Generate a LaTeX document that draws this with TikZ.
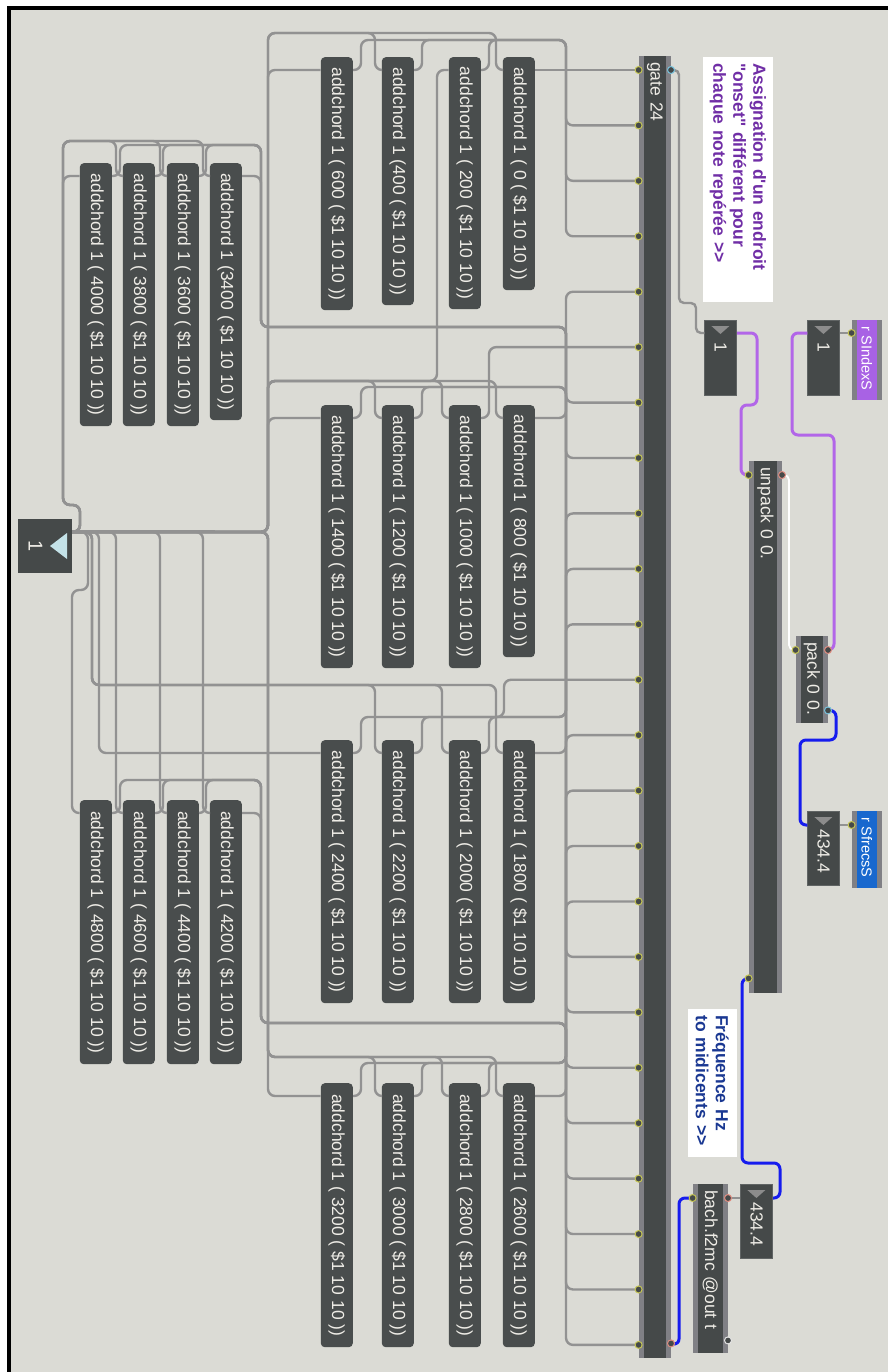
\documentclass[tikz,border=0pt]{standalone}
\usepackage{fontspec}
\setmainfont{Liberation Sans}[Ligatures=TeXOff]
\usetikzlibrary{calc}
\definecolor{patchbg}{RGB}{219,219,213}
\definecolor{msgfill}{RGB}{73,77,77}
\definecolor{objfill}{RGB}{69,73,73}
\definecolor{objstrip}{RGB}{128,128,133}
\definecolor{numedge}{RGB}{96,100,100}
\definecolor{maxtext}{RGB}{238,236,230}
\definecolor{cordgray}{RGB}{146,146,146}
\definecolor{cordpurple}{RGB}{178,102,232}
\definecolor{cordblue}{RGB}{22,28,238}
\definecolor{recvpurple}{RGB}{168,98,228}
\definecolor{recvblue}{RGB}{24,104,206}
\definecolor{notepurple}{RGB}{112,46,166}
\definecolor{noteblue}{RGB}{26,56,146}
\definecolor{portyellow}{RGB}{196,196,84}
\definecolor{portcyan}{RGB}{120,194,220}
\definecolor{portpink}{RGB}{222,140,128}
\definecolor{trigray}{RGB}{140,140,140}
\definecolor{trilight}{RGB}{196,226,232}
\newcommand{\maxfont}{\fontsize{17.5}{20}\selectfont}

\begin{document}
\begin{tikzpicture}[
  x=1pt, y=-1pt,
  every node/.style={font=\maxfont},
  msgbox/.style={rotate=-90, anchor=north west, fill=msgfill, rounded corners=4pt, minimum height=32pt, inner xsep=6pt, inner ysep=0pt, text=maxtext},
  objbox/.style={rotate=-90, anchor=north west, fill=objfill, minimum height=32pt, inner xsep=6pt, inner ysep=0pt, align=left, text=maxtext},
  numbox/.style={objbox, draw=numedge, line width=0.6pt},
  recvbox/.style={objbox, minimum height=30pt, font=\fontsize{14.5}{17}\selectfont, text=white},
  notebox/.style={rotate=-90, anchor=north west, fill=white, inner xsep=6pt, inner ysep=0pt, align=left, font=\bfseries\maxfont},
  bignum/.style={rotate=-90, fill=objfill, minimum width=54pt, minimum height=54pt, inner sep=0pt, text height=40pt, text depth=7pt, font=\fontsize{20}{24}\selectfont, text=maxtext},
  strip/.style={fill=objstrip},
  numtri/.style={fill=trigray},
  cord/.style={draw=cordgray, line width=2.4pt, rounded corners=7pt},
  purplecord/.style={cord, draw=cordpurple, line width=3pt, rounded corners=6pt},
  bluecord/.style={cord, draw=cordblue, line width=3pt, rounded corners=6pt},
  whitecord/.style={cord, draw=white, line width=1.8pt, rounded corners=5pt},
  port/.style={fill=objfill, line width=1pt}
]
\useasboundingbox (0,0) rectangle (888,1372);
\fill[white] (0,0) rectangle (888,1372);
\fill[black] (7,6) rectangle (888,1372);
\fill[patchbg] (11,10) rectangle (888,1372);

% objects
\node[objbox, text width=1290pt] (gate) at (671,56) {gate 24};
\node[objbox, minimum height=33pt, text width=520pt] (unpack) at (782,461) {unpack 0 0.};
\node[objbox, text width=75pt] (pack) at (828,636) {pack 0 0.};
\node[objbox, minimum height=35pt, text width=157pt] (f2mc) at (728,1184) {bach.f2mc @out t};
\node[numbox, text width=63pt] (nbA) at (737,320) {\hspace*{16pt}1};
\node[numbox, text width=63pt] (nbB) at (840,320) {\hspace*{16pt}1};
\node[numbox, text width=62pt] (nbC) at (840,811) {\hspace*{12pt}434.4};
\node[numbox, text width=62pt] (nbD) at (773,1184) {\hspace*{12pt}434.4};
\node[recvbox, fill=recvpurple, text width=68pt] (recvA) at (882,320) {r SIndexS};
\node[recvbox, fill=recvblue, text width=65pt] (recvB) at (882,811) {r SfrecsS};
\node[notebox, text=notepurple, minimum height=70pt, text width=233pt] (note1) at (773,57) {Assignation d'un endroit\\"onset" différent pour\\chaque note repérée >{}>};
\node[notebox, text=noteblue, minimum height=49pt, text width=136pt] (note2) at (737,1009) {Fréquence Hz\\to midicents >{}>};
\node[bignum] (big) at (45,546) {1};

% addchord messages
\node[msgbox, minimum width=233pt] (m0) at (535,57) {addchord 1 ( 0 ( \$1 10 10 ))};
\node[msgbox, minimum width=252pt] (m1) at (481,57) {addchord 1 ( 200 ( \$1 10 10 ))};
\node[msgbox, minimum width=248pt] (m2) at (414,57) {addchord 1 (400 ( \$1 10 10 ))};
\node[msgbox, minimum width=253pt] (m3) at (353,57) {addchord 1 ( 600 ( \$1 10 10 ))};
\node[msgbox, minimum width=252pt] (m4) at (535,405) {addchord 1 ( 800 ( \$1 10 10 ))};
\node[msgbox, minimum width=263pt] (m5) at (481,405) {addchord 1 ( 1000 ( \$1 10 10 ))};
\node[msgbox, minimum width=263pt] (m6) at (414,405) {addchord 1 ( 1200 ( \$1 10 10 ))};
\node[msgbox, minimum width=263pt] (m7) at (353,405) {addchord 1 ( 1400 ( \$1 10 10 ))};
\node[msgbox, minimum width=263pt] (m8) at (535,740) {addchord 1 ( 1800 ( \$1 10 10 ))};
\node[msgbox, minimum width=263pt] (m9) at (481,740) {addchord 1 ( 2000 ( \$1 10 10 ))};
\node[msgbox, minimum width=263pt] (m10) at (414,740) {addchord 1 ( 2200 ( \$1 10 10 ))};
\node[msgbox, minimum width=263pt] (m11) at (353,740) {addchord 1 ( 2400 ( \$1 10 10 ))};
\node[msgbox, minimum width=264pt] (m12) at (535,1083) {addchord 1 ( 2600 ( \$1 10 10 ))};
\node[msgbox, minimum width=264pt] (m13) at (481,1083) {addchord 1 ( 2800 ( \$1 10 10 ))};
\node[msgbox, minimum width=264pt] (m14) at (414,1083) {addchord 1 ( 3000 ( \$1 10 10 ))};
\node[msgbox, minimum width=264pt] (m15) at (353,1083) {addchord 1 ( 3200 ( \$1 10 10 ))};
\node[msgbox, minimum width=257pt] (m16) at (242,163) {addchord 1 (3400 ( \$1 10 10 ))};
\node[msgbox, minimum width=263pt] (m17) at (199,163) {addchord 1 ( 3600 ( \$1 10 10 ))};
\node[msgbox, minimum width=263pt] (m18) at (155,163) {addchord 1 ( 3800 ( \$1 10 10 ))};
\node[msgbox, minimum width=263pt] (m19) at (112,163) {addchord 1 ( 4000 ( \$1 10 10 ))};
\node[msgbox, minimum width=264pt] (m20) at (242,800) {addchord 1 ( 4200 ( \$1 10 10 ))};
\node[msgbox, minimum width=264pt] (m21) at (199,800) {addchord 1 ( 4400 ( \$1 10 10 ))};
\node[msgbox, minimum width=264pt] (m22) at (155,800) {addchord 1 ( 4600 ( \$1 10 10 ))};
\node[msgbox, minimum width=264pt] (m23) at (112,800) {addchord 1 ( 4800 ( \$1 10 10 ))};

\foreach \o in {gate,unpack,pack,f2mc,recvA,recvB} {
  \fill[strip] (\o.south west) rectangle ([xshift=5.5pt]\o.south east);
  \fill[strip] (\o.north west) rectangle ([xshift=-5.5pt]\o.north east);
}
\foreach \n in {nbA,nbB,nbC,nbD}
  \fill[numtri] ([xshift=7pt,yshift=-6pt]\n.south west) -- ([xshift=25pt,yshift=-6pt]\n.south west) -- ([xshift=16pt,yshift=-14pt]\n.south west) -- cycle;
\fill[trilight] ([xshift=5pt]big.center) -- ([xshift=22pt,yshift=13pt]big.center) -- ([xshift=22pt,yshift=-13pt]big.center) -- cycle;

% inlets and outlets
\foreach \i in {0,...,23} {
  \coordinate (o\i) at ([yshift={-14pt-55.43pt*\i}]gate.south west);
  \coordinate (m\i-in) at ([yshift=-13pt]m\i.north west);
  \coordinate (m\i-out) at ([yshift=-13pt]m\i.south west);
}
\coordinate (hub) at ([yshift=-13pt]big.north west);
\coordinate (gin1) at ([yshift=-14pt]gate.north west);
\coordinate (gin2) at ([yshift=15pt]gate.north east);
\coordinate (nbA-out) at ([yshift=-13pt]nbA.south west);
\coordinate (nbA-in) at ([yshift=-13pt]nbA.north west);
\coordinate (nbB-out) at ([yshift=-13pt]nbB.south west);
\coordinate (nbB-in) at ([yshift=-13pt]nbB.north west);
\coordinate (recvA-out) at ([yshift=-13pt]recvA.south west);
\coordinate (recvB-out) at ([yshift=-14pt]recvB.south west);
\coordinate (nbC-out) at ([yshift=-14pt]nbC.south west);
\coordinate (nbC-in) at ([yshift=-14pt]nbC.north west);
\coordinate (up-in) at ([yshift=-14pt]unpack.north west);
\coordinate (up-out1) at ([yshift=-14pt]unpack.south west);
\coordinate (up-out2) at ([yshift=15pt]unpack.south east);
\coordinate (pk-out) at ([yshift=-14pt]pack.south west);
\coordinate (pk-in1) at ([yshift=-14pt]pack.north west);
\coordinate (pk-in2) at ([yshift=13pt]pack.north east);
\coordinate (nbD-out) at ([yshift=-14pt]nbD.south west);
\coordinate (nbD-in) at ([yshift=-14pt]nbD.north west);
\coordinate (f2-out) at ([yshift=-14pt]f2mc.south west);
\coordinate (f2-in1) at ([yshift=-14pt]f2mc.north west);
\coordinate (f2-in2) at ([yshift=13pt]f2mc.north east);

% gate -> addchord
\draw[cord] (o0) -- (m0-in);
\draw[cord] (o1) -| (566,40) -| (489,70) -- (m1-in);
\draw[cord] (o2) -| (566,40) -| (422,70) -- (m2-in);
\draw[cord] (o3) -| (566,40) -| (361,70) -- (m3-in);
\draw[cord] (o4) -| (566,418) -- (m4-in);
\draw[cord] (o5) -| (489,418) -- (m5-in);
\draw[cord] (o6) -| (566,387) -| (422,418) -- (m6-in);
\draw[cord] (o7) -| (566,387) -| (361,418) -- (m7-in);
\draw[cord] (o8) -| (566,753) -- (m8-in);
\draw[cord] (o9) -| (566,717) -| (489,753) -- (m9-in);
\draw[cord] (o10) -| (566,717) -| (422,753) -- (m10-in);
\draw[cord] (o11) -| (504,717) -| (361,753) -- (m11-in);
\draw[cord] (o12) -| (566,1096) -- (m12-in);
\draw[cord] (o13) -| (566,1063) -| (489,1096) -- (m13-in);
\draw[cord] (o14) -| (566,1063) -| (422,1096) -- (m14-in);
\draw[cord] (o15) -| (566,1063) -| (361,1096) -- (m15-in);
\draw[cord] (o16) -| (566,327) -| (261,176) -- (m16-in);
\draw[cord] (o17) -| (566,327) -| (261,145) -| (206,176) -- (m17-in);
\draw[cord] (o18) -| (566,327) -| (261,145) -| (163,176) -- (m18-in);
\draw[cord] (o19) -| (566,327) -| (261,145) -| (120,176) -- (m19-in);
\draw[cord] (o20) -| (566,1023) -| (261,813) -- (m20-in);
\draw[cord] (o21) -| (566,1023) -| (261,780) -| (206,813) -- (m21-in);
\draw[cord] (o22) -| (566,1023) -| (261,780) -| (163,813) -- (m22-in);
\draw[cord] (o23) -| (566,1023) -| (261,780) -| (120,813) -- (m23-in);

% addchord -> number box
\draw[cord] (m0-out) -| (496,33) -| (268,532) -- (hub);
\draw[cord] (m1-out) -| (437,381) -| (268,532) -- (hub);
\draw[cord] (m2-out) -| (375,33) -| (268,532) -- (hub);
\draw[cord] (m3-out) -| (268,532) -- (hub);
\draw[cord] (m4-out) -| (496,381) -| (268,532) -- (hub);
\draw[cord] (m5-out) -| (442,381) -| (268,532) -- (hub);
\draw[cord] (m6-out) -| (375,381) -| (268,532) -- (hub);
\draw[cord] (m7-out) -| (268,532) -- (hub);
\draw[cord] (m8-out) -| (496,685) -| (92,532) -- (hub);
\draw[cord] (m9-out) -| (442,685) -| (92,532) -- (hub);
\draw[cord] (m10-out) -| (375,685) -| (92,532) -- (hub);
\draw[cord] (m11-out) -| (99,532) -- (hub);
\draw[cord] (m12-out) -| (496,1057) -| (268,532) -- (hub);
\draw[cord] (m13-out) -| (442,1057) -| (268,532) -- (hub);
\draw[cord] (m14-out) -| (375,1057) -| (268,532) -- (hub);
\draw[cord] (m15-out) -| (268,532) -- (hub);
\draw[cord] (m16-out) -| (203,141) -| (63,505) -| (80,532) -- (hub);
\draw[cord] (m17-out) -| (160,141) -| (63,505) -| (80,532) -- (hub);
\draw[cord] (m18-out) -| (116,141) -| (63,505) -| (80,532) -- (hub);
\draw[cord] (m19-out) -| (63,505) -| (80,532) -- (hub);
\draw[cord] (m20-out) -| (203,532) -- (hub);
\draw[cord] (m21-out) -| (160,532) -- (hub);
\draw[cord] (m22-out) -| (116,532) -- (hub);
\draw[cord] (m23-out) -| (72,590) -| (88,532) -- (hub);

% control side
\draw[cord, rounded corners=5pt] (nbA-out) -| (696,303) -| (679,70) -- (gin1);
\draw[cord] (recvA-out) -- (nbB-in);
\draw[cord] (recvB-out) -- (nbC-in);
\draw[cord] (nbD-out) -- (f2-in1);
\draw[purplecord] (nbA-in) -| (757,405) -| (741,475) -- (up-out1);
\draw[purplecord] (nbB-out) -| (792,435) -| (834,650) -- (pk-in1);
\draw[whitecord] (up-in) -| (789,650) -- (pk-out);
\draw[bluecord] (pk-in2) -| (836,740) -| (800,825) -- (nbC-out);
\draw[bluecord] (up-out2) -| (742,1163) -| (780,1198) -- (nbD-in);
\draw[bluecord] (f2-out) -| (679,1345) -- (gin2);

\foreach \i in {0,...,23}
  \draw[port, draw=portyellow] (o\i) circle [radius=3.5pt];
\foreach \p in {up-out1,up-out2,pk-out,recvA-out,recvB-out,f2-out}
  \draw[port, draw=portyellow] (\p) circle [radius=3.5pt];
\foreach \p in {gin1,pk-in2}
  \draw[port, draw=portcyan] (\p) circle [radius=3.5pt];
\foreach \p in {gin2,up-in,pk-in1,f2-in1}
  \draw[port, draw=portpink] (\p) circle [radius=3.5pt];
\draw[port, draw=white!80!gray] (f2-in2) circle [radius=3.5pt];
\end{tikzpicture}
\end{document}
